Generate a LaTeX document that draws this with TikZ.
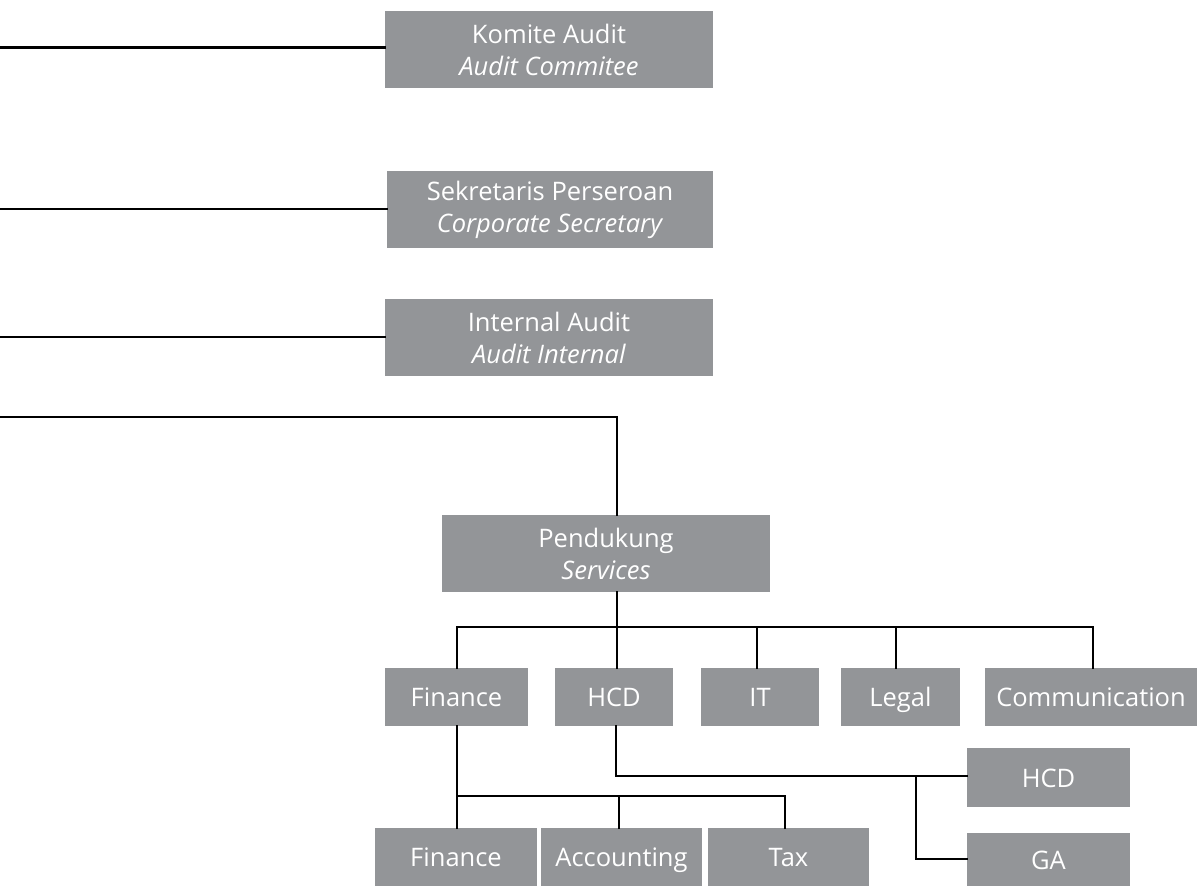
\documentclass[tikz,border=0pt]{standalone}
\usepackage{fontspec}
\setmainfont{Open Sans}
\definecolor{boxgrey}{HTML}{939598}
\begin{document}
\begin{tikzpicture}[x=1pt,y=-1pt,
  box/.style={fill=boxgrey,draw=none,text=white,inner sep=0pt,align=center,
    font=\fontsize{25.5}{32}\selectfont,minimum height=77pt},
  small/.style={box,minimum height=58pt,text height=19pt,text depth=0pt},
  conn/.style={line width=2.9pt,black,line cap=rect}]
\useasboundingbox (0,0) rectangle (1197,886);
% top-level boxes
\node[box,minimum width=328pt] (ka) at (549,49.5) {Komite Audit\\\textit{Audit Commitee}};
\node[box,minimum width=326pt] (cs) at (550,209.5) {Sekretaris Perseroan\\\textit{Corporate Secretary}};
\node[box,minimum width=328pt] (ia) at (549,337.5) {Internal Audit\\\textit{Audit Internal}};
\node[box,minimum width=328pt] (pd) at (606,553.5) {Pendukung\\\textit{Services}};
% second level
\node[small,minimum width=143pt] (fin) at (456.5,697) {Finance};
\node[small,minimum width=118pt] (hcd) at (614,697) {HCD};
\node[small,minimum width=118pt] (it) at (760,697) {IT};
\node[small,minimum width=119pt] (legal) at (900.5,697) {Legal};
\node[small,minimum width=212pt] (comm) at (1091,697) {Communication};
% third level
\node[small,minimum width=163pt,minimum height=59pt] (hcd2) at (1048.5,777.5) {HCD};
\node[small,minimum width=163pt,minimum height=53pt] (ga) at (1048.5,859.5) {GA};
\node[small,minimum width=162pt] (sfin) at (456,857) {Finance};
\node[small,minimum width=161pt] (acc) at (621.5,857) {Accounting};
\node[small,minimum width=161pt] (tax) at (788.5,857) {Tax};
% coordinates
\coordinate (L) at (0,0);
\coordinate (p1) at (617,417);
\coordinate (bus) at (617,627);
\coordinate (bf) at (457,627);
\coordinate (bi) at (757,627);
\coordinate (bl) at (896,627);
\coordinate (bc) at (1093,627);
\coordinate (fb) at (457,796);
\coordinate (fa) at (619,796);
\coordinate (ft) at (785,796);
\coordinate (h1) at (616,776);
\coordinate (h2) at (916,776);
% left lines
\draw[conn] (ka.west |- 0,47.5) -- (L |- 0,47.5);
\draw[conn] (cs.west |- 0,209) -- (L |- 0,209);
\draw[conn] (ia.west |- 0,337) -- (L |- 0,337);
\draw[conn] (L |- p1) -- (p1) -- (p1 |- pd.north);
% pendukung to children
\draw[conn] (p1 |- pd.south) -- (bus);
\draw[conn] (bf |- fin.north) -- (bf) -- (bc) -- (bc |- comm.north);
\draw[conn] (bus) -- (bus |- hcd.north);
\draw[conn] (bi) -- (bi |- it.north);
\draw[conn] (bl) -- (bl |- legal.north);
% finance subtree
\draw[conn] (bf |- fin.south) -- (fb);
\draw[conn] (fb |- sfin.north) -- (fb) -- (ft) -- (ft |- tax.north);
\draw[conn] (fa) -- (fa |- acc.north);
% hcd subtree
\draw[conn] (h1 |- hcd.south) -- (h1) -- (hcd2.west |- h1);
\draw[conn] (h2) -- (h2 |- 0,859) -- (ga.west |- 0,859);
\end{tikzpicture}
\end{document}
